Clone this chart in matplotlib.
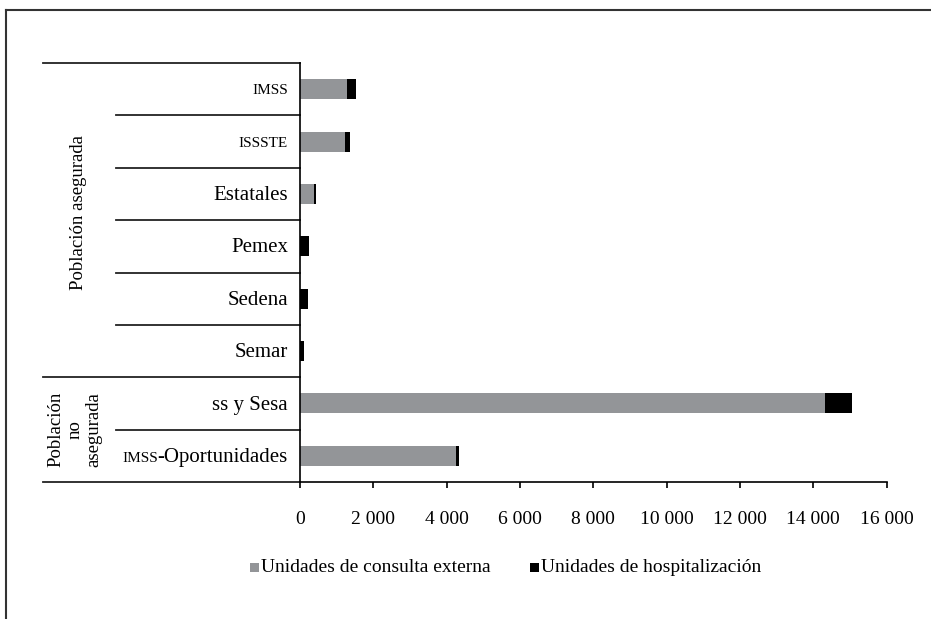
import matplotlib
matplotlib.use("Agg")
import matplotlib.pyplot as plt
from matplotlib.transforms import blended_transform_factory
from matplotlib.patches import Rectangle
from matplotlib.lines import Line2D

plt.rcParams['font.family'] = ['Liberation Serif', 'DejaVu Serif']

# ---------------- data ----------------
categories = ["IMSS", "ISSSTE", "Estatales", "Pemex", "Sedena", "Semar",
              "ss y Sesa", "IMSS-Oportunidades"]
consulta_externa = [1290, 1240, 380, 0, 0, 0, 14310, 4250]
hospitalizacion = [250, 130, 55, 245, 220, 110, 735, 80]
groups = ["Población asegurada", "Población\nno\nasegurada"]
group_rows = [(0, 5), (6, 7)]
xticks = [0, 2000, 4000, 6000, 8000, 10000, 12000, 14000, 16000]
xtick_labels = ["0", "2 000", "4 000", "6 000", "8 000", "10 000",
                "12 000", "14 000", "16 000"]
legend_labels = ["Unidades de consulta externa", "Unidades de hospitalización"]
gray = "#939598"

W, H = 931, 619
fig = plt.figure(figsize=(W / 100, H / 100), dpi=100)

def fx(x):
    return x / W

def fy(y):
    return 1 - y / H

ax_left, ax_right, ax_top, ax_bot = 300, 886.6, 63, 482
ax = fig.add_axes([fx(ax_left), fy(ax_bot), (ax_right - ax_left) / W, (ax_bot - ax_top) / H])

ypos = list(range(len(categories)))
ax.barh(ypos, consulta_externa, height=0.38, color=gray, zorder=2)
ax.barh(ypos, hospitalizacion, left=consulta_externa, height=0.38, color="black", zorder=2)

ax.set_xlim(0, 16000)
ax.set_ylim(len(categories) - 0.5, -0.5)
for s in ["top", "right"]:
    ax.spines[s].set_visible(False)
for s in ["left", "bottom"]:
    ax.spines[s].set_linewidth(1.2)
    ax.spines[s].set_color("black")
ax.set_yticks([])
ax.set_xticks(xticks)
ax.set_xticklabels(xtick_labels, fontsize=14)
ax.tick_params(axis="x", direction="out", length=4, width=1.2, pad=17)

# convert pixel x to axes fraction
def axx(px):
    return (px - ax_left) / (ax_right - ax_left)

tr = blended_transform_factory(ax.transAxes, ax.transData)
lc = "#222222"
# table lines
n = len(categories)
ax.add_line(Line2D([axx(43), 0], [-0.5, -0.5], transform=tr, color=lc, lw=1.3, clip_on=False))
ax.add_line(Line2D([axx(43), 0], [n - 0.5, n - 0.5], transform=tr, color=lc, lw=1.3, clip_on=False))
for g0, g1 in group_rows[:-1]:
    ax.add_line(Line2D([axx(43), 0], [g1 + 0.5, g1 + 0.5], transform=tr, color=lc, lw=1.3, clip_on=False))
for g0, g1 in group_rows:
    for k in range(g0, g1):
        ax.add_line(Line2D([axx(116), 0], [k + 0.5, k + 0.5], transform=tr, color=lc, lw=1.3, clip_on=False))

# category labels (small caps for acronyms)
fig.canvas.draw()
renderer = fig.canvas.get_renderer()
lx = axx(288)
for i, c in enumerate(categories):
    if c in ("IMSS", "ISSSTE"):
        ax.text(lx, i + 0.03, c, transform=tr, ha="right", va="center", fontsize=11)
    elif c.startswith("IMSS-"):
        t = ax.text(lx, i + 0.03, c[4:], transform=tr, ha="right", va="center", fontsize=15)
        bb = t.get_window_extent(renderer=renderer)
        x0 = ax.transAxes.inverted().transform((bb.x0, 0))[0]
        ax.text(x0, i + 0.06, "IMSS", transform=tr, ha="right", va="center", fontsize=11)
    else:
        ax.text(lx, i + 0.03, c, transform=tr, ha="right", va="center", fontsize=15)

# group labels
ax.text(axx(78), 2.35, groups[0], transform=tr,
        rotation=90, ha="center", va="center", fontsize=13.5)
ax.text(axx(75), (group_rows[1][0] + group_rows[1][1]) / 2, groups[1], transform=tr,
        rotation=90, ha="center", va="center", fontsize=13.5, multialignment="center",
        linespacing=1.15)

# outer frame (top and left)
fig.add_artist(Line2D([fx(6), 1], [fy(10), fy(10)], transform=fig.transFigure, color="#333333", lw=1.5))
fig.add_artist(Line2D([fx(6), fx(6)], [fy(10), 0], transform=fig.transFigure, color="#333333", lw=1.5))

# legend
ly = 567
for (sx, col, lab) in [(250, gray, legend_labels[0]), (530, "black", legend_labels[1])]:
    fig.add_artist(Rectangle((fx(sx), fy(ly + 5)), 9 / W, 9 / H, transform=fig.transFigure,
                             facecolor=col, edgecolor="none"))
    fig.text(fx(sx + 11), fy(ly), lab, ha="left", va="center", fontsize=14)

fig.savefig("out.png", dpi=100)
